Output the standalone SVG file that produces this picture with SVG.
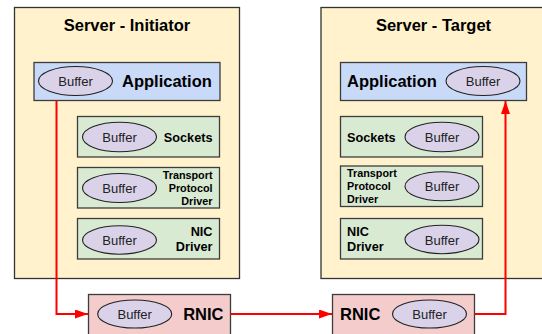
<svg xmlns="http://www.w3.org/2000/svg" width="542" height="334" viewBox="0 0 542 334">
<defs>
<style>
.server{fill:#fff2cc;stroke:#333;stroke-width:1.3}
.app{fill:#c9daf8;stroke:#3c3c3c;stroke-width:1.3}
.layer{fill:#d9ead3;stroke:#3c3c3c;stroke-width:1.3}
.rnic{fill:#f4cccc;stroke:#3c3c3c;stroke-width:1.3}
.buf{fill:#d9d2e9;stroke:#222;stroke-width:1.1}
text{font-family:"Liberation Sans",Arial,sans-serif;fill:#000}
.title{font-size:16.5px;font-weight:bold;text-anchor:middle}
.big{font-size:16.5px;font-weight:bold}
.mid{font-size:12.7px;font-weight:bold}
.small{font-size:10.8px;font-weight:bold}
.buft{font-size:13px;text-anchor:middle;fill:#222}
.end{text-anchor:end}
.conn{fill:none;stroke:#ff0000;stroke-width:2}
</style>
<marker id="arr" markerUnits="userSpaceOnUse" markerWidth="14" markerHeight="10" refX="13" refY="4.5" orient="auto">
<path d="M0,0 L13,4.5 L0,9 z" fill="#ff0000"/>
</marker>
</defs>

<g id="server-initiator">
<rect class="server" x="14.5" y="7.5" width="225" height="271"/>
<text class="title" x="127" y="30.5">Server - Initiator</text>
</g>
<g id="server-target">
<rect class="server" x="321" y="7.5" width="225" height="271"/>
<text class="title" x="433.5" y="30.5">Server - Target</text>
</g>

<g id="init-application">
<rect class="app" x="34" y="62.5" width="186" height="38"/>
<ellipse class="buf" cx="75.5" cy="81" rx="37" ry="14.5"/>
<text class="buft" x="75.5" y="86">Buffer</text>
<text class="big" x="122" y="87.3">Application</text>
</g>
<g id="init-sockets">
<rect class="layer" x="77.5" y="116.5" width="142" height="40.5"/>
<ellipse class="buf" cx="119.5" cy="137" rx="37" ry="14.8"/>
<text class="buft" x="119.5" y="142">Buffer</text>
<text class="mid end" x="212.5" y="141.5">Sockets</text>
</g>
<g id="init-transport">
<rect class="layer" x="77.5" y="167.5" width="142" height="40.5"/>
<ellipse class="buf" cx="119.5" cy="188" rx="37" ry="14.5"/>
<text class="buft" x="119.5" y="193">Buffer</text>
<text class="small end" x="212.5" y="178.5">Transport</text>
<text class="small end" x="212.5" y="191.5">Protocol</text>
<text class="small end" x="212.5" y="204.5">Driver</text>
</g>
<g id="init-nic">
<rect class="layer" x="77.5" y="218.5" width="142" height="40.5"/>
<ellipse class="buf" cx="119.5" cy="240" rx="37" ry="14.2"/>
<text class="buft" x="119.5" y="245">Buffer</text>
<text class="mid end" x="212.5" y="236">NIC</text>
<text class="mid end" x="212.5" y="251">Driver</text>
</g>
<g id="init-rnic">
<rect class="rnic" x="88.5" y="294.5" width="142" height="45"/>
<ellipse class="buf" cx="134.7" cy="314" rx="37" ry="14"/>
<text class="buft" x="134.7" y="319">Buffer</text>
<text class="big end" x="223.5" y="319.5">RNIC</text>
</g>

<g id="target-application">
<rect class="app" x="340.5" y="62.5" width="186" height="38"/>
<ellipse class="buf" cx="483" cy="81" rx="37" ry="14.5"/>
<text class="buft" x="483" y="86">Buffer</text>
<text class="big" x="347" y="87.3">Application</text>
</g>
<g id="target-sockets">
<rect class="layer" x="340.5" y="116.5" width="142" height="40.5"/>
<ellipse class="buf" cx="442" cy="137" rx="37" ry="14.8"/>
<text class="buft" x="442" y="142">Buffer</text>
<text class="mid" x="347" y="141.5">Sockets</text>
</g>
<g id="target-transport">
<rect class="layer" x="340.5" y="166" width="142" height="40.5"/>
<ellipse class="buf" cx="442" cy="186.3" rx="37" ry="14.5"/>
<text class="buft" x="442" y="191.3">Buffer</text>
<text class="small" x="347" y="177">Transport</text>
<text class="small" x="347" y="189.7">Protocol</text>
<text class="small" x="347" y="202.7">Driver</text>
</g>
<g id="target-nic">
<rect class="layer" x="340.5" y="218.5" width="142" height="40.5"/>
<ellipse class="buf" cx="442" cy="239.5" rx="37" ry="14.2"/>
<text class="buft" x="442" y="244.5">Buffer</text>
<text class="mid" x="347" y="235.5">NIC</text>
<text class="mid" x="347" y="250.8">Driver</text>
</g>
<g id="target-rnic">
<rect class="rnic" x="332.5" y="294.5" width="142" height="45"/>
<ellipse class="buf" cx="429.5" cy="314" rx="37" ry="14"/>
<text class="buft" x="429.5" y="319">Buffer</text>
<text class="big" x="340" y="319.5">RNIC</text>
</g>

<g id="connectors">
<path class="conn" d="M56.5,100.5 V314 H88" marker-end="url(#arr)"/>
<path class="conn" d="M230.5,314 H332" marker-end="url(#arr)"/>
<path class="conn" d="M474.5,314 H505.5 V101" marker-end="url(#arr)"/>
</g>
</svg>
